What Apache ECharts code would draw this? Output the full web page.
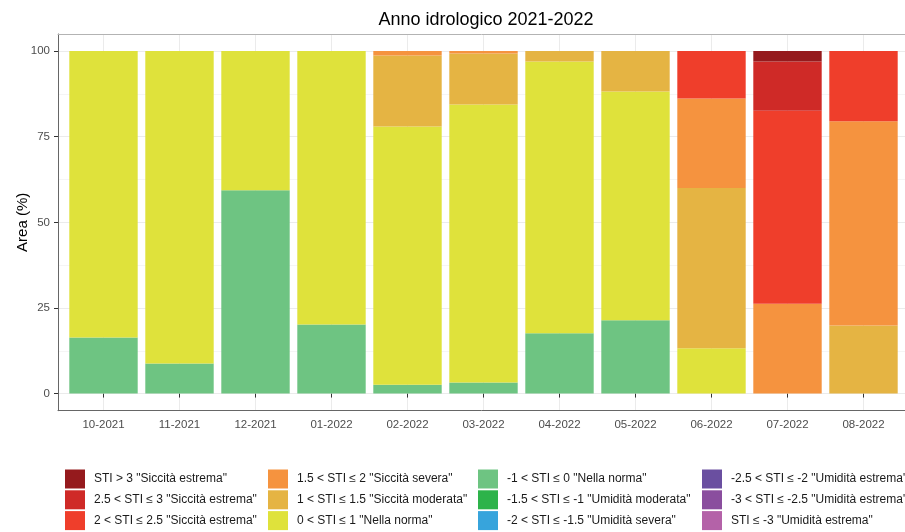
<!DOCTYPE html>
<html>
<head>
<meta charset="utf-8">
<style>
  html, body { margin: 0; padding: 0; background: #fff; }
  #chart { width: 905px; height: 532px; }
</style>
<script src="https://cdn.jsdelivr.net/npm/echarts@6/dist/echarts.min.js"></script>
</head>
<body>
<div id="chart"></div>
<script>
// months of the hydrological year
var months = ['10-2021', '11-2021', '12-2021', '01-2022', '02-2022', '03-2022', '04-2022', '05-2022', '06-2022', '07-2022', '08-2022']
var yTicks = [0, 25, 50, 75, 100]
var yMinor = [12.5, 37.5, 62.5, 87.5]

// area (%) per STI class, bottom of the stack first
var stiLeM3 = [0, 0, 0, 0, 0, 0, 0, 0, 0, 0, 0]
var stiM3M25 = [0, 0, 0, 0, 0, 0, 0, 0, 0, 0, 0]
var stiM25M2 = [0, 0, 0, 0, 0, 0, 0, 0, 0, 0, 0]
var stiM2M15 = [0, 0, 0, 0, 0, 0, 0, 0, 0, 0, 0]
var stiM15M1 = [0, 0, 0, 0, 0, 0, 0, 0, 0, 0, 0]
var stiM1_0 = [16.4, 8.8, 59.4, 20.2, 2.6, 3.2, 17.6, 21.4, 0, 0, 0]
var sti0_1 = [83.6, 91.2, 40.6, 79.8, 75.4, 81.2, 79.4, 66.8, 13.2, 0, 0]
var sti1_15 = [0, 0, 0, 0, 20.7, 14.9, 3.0, 11.8, 46.8, 0, 19.9]
var sti15_2 = [0, 0, 0, 0, 1.3, 0.7, 0, 0, 26.2, 26.2, 59.6]
var sti2_25 = [0, 0, 0, 0, 0, 0, 0, 0, 13.8, 56.4, 20.5]
var sti25_3 = [0, 0, 0, 0, 0, 0, 0, 0, 0, 14.4, 0]
var stiGt3 = [0, 0, 0, 0, 0, 0, 0, 0, 0, 3.0, 0]

var classes = [
  {name: 'STI ≤ -3 "Umidità estrema"', color: '#B462A8', data: stiLeM3},
  {name: '-3 < STI ≤ -2.5 "Umidità estrema"', color: '#8A4E9E', data: stiM3M25},
  {name: '-2.5 < STI ≤ -2 "Umidità estrema"', color: '#6A4FA0', data: stiM25M2},
  {name: '-2 < STI ≤ -1.5 "Umidità severa"', color: '#37A4DC', data: stiM2M15},
  {name: '-1.5 < STI ≤ -1 "Umidità moderata"', color: '#2DB34A', data: stiM15M1},
  {name: '-1 < STI ≤ 0 "Nella norma"', color: '#6EC482', data: stiM1_0},
  {name: '0 < STI ≤ 1 "Nella norma"', color: '#DFE23B', data: sti0_1},
  {name: '1 < STI ≤ 1.5 "Siccità moderata"', color: '#E5B443', data: sti1_15},
  {name: '1.5 < STI ≤ 2 "Siccità severa"', color: '#F5933F', data: sti15_2},
  {name: '2 < STI ≤ 2.5 "Siccità estrema"', color: '#EF3E2B', data: sti2_25},
  {name: '2.5 < STI ≤ 3 "Siccità estrema"', color: '#CF2A27', data: sti25_3},
  {name: 'STI > 3 "Siccità estrema"', color: '#951A1D', data: stiGt3}
]

// legend columns, filled top to bottom
var legendCols = [
  [11, 10, 9],
  [8, 7, 6],
  [5, 4, 3],
  [2, 1, 0]
]
var legendLeft = [65, 268, 478, 702]

var font = '"Liberation Sans", Arial, sans-serif'

var chart = echarts.init(document.getElementById('chart'), null, {renderer: 'canvas'})

var series = classes.map(function (c) {
  return {
    name: c.name,
    type: 'bar',
    stack: 'area',
    xAxisIndex: 2,
    yAxisIndex: 2,
    barWidth: '90%',
    itemStyle: {color: c.color},
    emphasis: {disabled: true},
    data: c.data
  }
})

var legends = legendCols.map(function (col, i) {
  return {
    orient: 'vertical',
    left: legendLeft[i],
    top: 469.5,
    padding: 0,
    itemWidth: 20,
    itemHeight: 19,
    itemGap: 1.8,
    icon: 'rect',
    selectedMode: false,
    textStyle: {
      fontFamily: font,
      fontSize: 12,
      color: '#1a1a1a',
      padding: [0, 0, 0, 4]
    },
    data: col.map(function (k) { return classes[k].name })
  }
})

var option = {
  backgroundColor: '#ffffff',
  animation: false,
  title: {
    text: 'Anno idrologico 2021-2022',
    left: 481,
    textAlign: 'center',
    top: 6,
    textStyle: {
      fontFamily: font,
      fontSize: 18,
      fontWeight: 'normal',
      color: '#000'
    }
  },
  legend: legends,
  grid: [
    {left: 58, right: -4, top: 34, bottom: 121.3},
    {left: 65.5, right: 3.5, top: 34, bottom: 121.3}
  ],
  xAxis: [
    {
      gridIndex: 0,
      type: 'value',
      min: 0,
      max: 1,
      axisLine: {show: true, onZero: false, lineStyle: {color: '#666', width: 1}},
      axisTick: {show: false},
      axisLabel: {show: false},
      splitLine: {show: false}
    },
    {
      gridIndex: 0,
      type: 'value',
      position: 'top',
      min: 0,
      max: 1,
      axisLine: {show: true, onZero: false, lineStyle: {color: '#b3b3b3', width: 1}},
      axisTick: {show: false},
      axisLabel: {show: false},
      splitLine: {show: false}
    },
    {
      gridIndex: 1,
      type: 'category',
      data: months,
      axisLine: {show: false},
      axisTick: {show: true, alignWithLabel: true, length: 4, interval: 0, lineStyle: {color: '#333'}},
      axisLabel: {interval: 0, margin: 8, fontFamily: font, fontSize: 11.5, color: '#4d4d4d'},
      splitLine: {show: true, alignWithLabel: true, interval: 0, lineStyle: {color: '#ebebeb', width: 1}}
    }
  ],
  yAxis: [
    {
      gridIndex: 0,
      type: 'value',
      min: -5,
      max: 105,
      name: 'Area (%)',
      nameLocation: 'middle',
      nameRotate: 90,
      nameGap: 28,
      nameMoveOverlap: false,
      nameTextStyle: {fontFamily: font, fontSize: 15, color: '#000'},
      axisLine: {show: true, onZero: false, lineStyle: {color: '#666', width: 1}},
      axisTick: {show: true, length: 4, customValues: yTicks, lineStyle: {color: '#333'}},
      axisLabel: {margin: 8, customValues: yTicks, fontFamily: font, fontSize: 11.5, color: '#4d4d4d'},
      splitLine: {show: true, lineStyle: {color: '#ebebeb', width: 1}}
    },
    {
      gridIndex: 0,
      type: 'value',
      min: -5,
      max: 105,
      axisLine: {show: false},
      axisTick: {show: false, customValues: yMinor},
      axisLabel: {show: false, customValues: yMinor},
      splitLine: {show: true, lineStyle: {color: '#f5f5f5', width: 1}}
    },
    {
      gridIndex: 1,
      type: 'value',
      min: -5,
      max: 105,
      show: false
    }
  ],
  series: series
}

chart.setOption(option, true)
</script>
</body>
</html>
